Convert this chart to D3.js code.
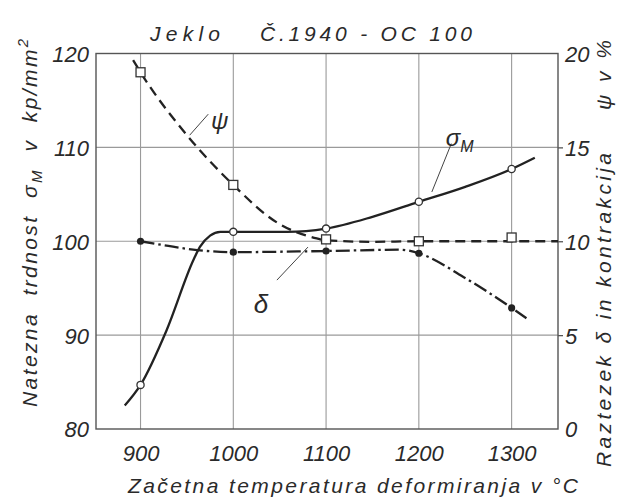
<!DOCTYPE html>
<html>
<head>
<meta charset="utf-8">
<script src="https://cdn.jsdelivr.net/npm/d3@7/dist/d3.min.js"></script>
<style>
  html, body { margin: 0; padding: 0; background: #fff; }
  svg { display: block; }
  text { font-family: "Liberation Sans", Arial, sans-serif; font-style: italic; fill: #2a2a2a; }
</style>
</head>
<body>
<svg id="chart" width="620" height="497"></svg>
<script>
// Measured temperatures (°C) and the values read at them
const temps = [900, 1000, 1100, 1200, 1300];
const sigmaM = [84.7, 101.0, 101.35, 104.2, 107.7];   // kp/mm², left axis
const psi = [19.0, 13.0, 10.1, 10.0, 10.2];          // %, right axis
const delta = [10.0, 9.42, 9.48, 9.36, 6.45];        // %, right axis

// Faired curves through the measurements
const sigmaCurveT = [883, 900, 928, 957, 964, 975, 986, 1000, 1058, 1100, 1150, 1200, 1250, 1300, 1325];
const sigmaCurveV = [82.5, 84.7, 90.5, 98.0, 99.4, 100.6, 101.0, 101.0, 101.0, 101.35, 102.6, 104.2, 105.8, 107.7, 108.9];
const psiCurveT = [892, 900, 950, 1000, 1047, 1090, 1100, 1150, 1200, 1300, 1350];
const psiCurveV = [19.65, 19.0, 15.65, 13.0, 11.0, 10.15, 10.05, 9.97, 10.0, 10.0, 10.0];
const deltaCurveT = [900, 930, 961, 1000, 1100, 1180, 1200, 1248, 1300, 1316];
const deltaCurveV = [10.0, 9.75, 9.53, 9.42, 9.48, 9.55, 9.36, 8.1, 6.45, 5.9];

// Axis ticks
const xTicks = [900, 1000, 1100, 1200, 1300];
const leftTicks = [80, 90, 100, 110, 120];
const rightTicks = [0, 5, 10, 15, 20];

const svg = d3.select("#chart");
const x = d3.scaleLinear().domain([852, 1350]).range([96, 558]);
const yL = d3.scaleLinear().domain([80, 120]).range([429, 53.5]);
const yR = d3.scaleLinear().domain([0, 20]).range([429, 53.5]);

const ink = "#222";
const grid = "#9a9a9a";

// Grid
svg.append("g").selectAll("line.v").data(xTicks).join("line")
  .attr("x1", d => x(d)).attr("x2", d => x(d))
  .attr("y1", yL(120)).attr("y2", yL(80))
  .attr("stroke", grid).attr("stroke-width", 1.1);
svg.append("g").selectAll("line.h").data([90, 100, 110]).join("line")
  .attr("x1", x(852)).attr("x2", x(1350))
  .attr("y1", d => yL(d)).attr("y2", d => yL(d))
  .attr("stroke", grid).attr("stroke-width", 1.1);

// Frame
svg.append("rect")
  .attr("x", x(852)).attr("y", yL(120))
  .attr("width", x(1350) - x(852)).attr("height", yL(80) - yL(120))
  .attr("fill", "none").attr("stroke", "#555").attr("stroke-width", 1.4);

// Axes (labels only; the frame carries the lines)
const bottom = svg.append("g").attr("transform", `translate(0,${yL(80)})`)
  .call(d3.axisBottom(x).tickValues(xTicks).tickSize(0).tickPadding(16).tickFormat(d3.format("d")));
const left = svg.append("g").attr("transform", `translate(${x(852)},0)`)
  .call(d3.axisLeft(yL).tickValues(leftTicks).tickSize(0).tickPadding(7).tickFormat(d3.format("d")));
const right = svg.append("g").attr("transform", `translate(${x(1350)},0)`)
  .call(d3.axisRight(yR).tickValues(rightTicks).tickSize(5).tickPadding(2).tickFormat(d3.format("d")));
[bottom, left, right].forEach(g => {
  g.select(".domain").remove();
  g.selectAll("text").style("font-size", "22px").style("font-family", "'Liberation Sans', Arial, sans-serif")
    .style("font-style", "italic").attr("fill", "#2a2a2a");
});
right.selectAll(".tick line").attr("stroke", "#555").attr("stroke-width", 1.3)
  .filter(d => d === 0 || d === 20).remove();
right.selectAll(".tick text").attr("dy", "0.36em");
left.selectAll(".tick text").attr("dy", "0.36em");

// Curves
const lineL = d3.line().x(d => x(d[0])).y(d => yL(d[1])).curve(d3.curveMonotoneX);
const lineR = d3.line().x(d => x(d[0])).y(d => yR(d[1])).curve(d3.curveMonotoneX);

svg.append("path").datum(d3.zip(psiCurveT, psiCurveV)).attr("d", lineR)
  .attr("fill", "none").attr("stroke", ink).attr("stroke-width", 2.3)
  .attr("stroke-dasharray", "10,6");
svg.append("path").datum(d3.zip(deltaCurveT, deltaCurveV)).attr("d", lineR)
  .attr("fill", "none").attr("stroke", ink).attr("stroke-width", 2.3)
  .attr("stroke-dasharray", "14,4,2.5,4");
svg.append("path").datum(d3.zip(sigmaCurveT, sigmaCurveV)).attr("d", lineL)
  .attr("fill", "none").attr("stroke", ink).attr("stroke-width", 2.3);

// Markers
svg.append("g").selectAll("circle").data(d3.zip(temps, delta)).join("circle")
  .attr("cx", d => x(d[0])).attr("cy", d => yR(d[1])).attr("r", 3.6).attr("fill", ink);
svg.append("g").selectAll("rect").data(d3.zip(temps, psi)).join("rect")
  .attr("x", d => x(d[0]) - 4.5).attr("y", d => yR(d[1]) - 4.5)
  .attr("width", 9).attr("height", 9)
  .attr("fill", "#fff").attr("stroke", "#333").attr("stroke-width", 1.3);
svg.append("g").selectAll("circle").data(d3.zip(temps, sigmaM)).join("circle")
  .attr("cx", d => x(d[0])).attr("cy", d => yL(d[1])).attr("r", 3.6)
  .attr("fill", "#fff").attr("stroke", "#333").attr("stroke-width", 1.3);

// Curve labels with leader lines
const leader = (x1, y1, x2, y2) => svg.append("line")
  .attr("x1", x1).attr("y1", y1).attr("x2", x2).attr("y2", y2)
  .attr("stroke", "#444").attr("stroke-width", 1);
leader(x(953), yR(15.65), x(973), yR(16.77));
svg.append("text").attr("x", x(976)).attr("y", yR(16.0)).style("font-size", "24px").text("ψ");

leader(x(1214), yL(105.25), x(1235), yL(110.4));
const sl = svg.append("text").attr("x", x(1229)).attr("y", yL(110.1)).style("font-size", "24px");
sl.append("tspan").text("σ");
sl.append("tspan").attr("dy", 6).style("font-size", "16px").text("M");

leader(x(1080.5), yR(9.69), x(1047), yR(7.93));
svg.append("text").attr("x", x(1022)).attr("y", yR(6.2)).style("font-size", "26px").text("δ");

// Title
svg.append("text").attr("x", 150).attr("y", 41).attr("textLength", 70).attr("lengthAdjust", "spacing")
  .style("font-size", "21px").text("Jeklo");
svg.append("text").attr("x", 260).attr("y", 41).attr("textLength", 212).attr("lengthAdjust", "spacing")
  .style("font-size", "21px").text("Č.1940 - OC 100");

// Axis titles
svg.append("text").attr("x", 128).attr("y", 493).attr("textLength", 450).attr("lengthAdjust", "spacing")
  .style("font-size", "21px").text("Začetna temperatura deformiranja v °C");

const lt = svg.append("text").attr("transform", "translate(37,407) rotate(-90)")
  .style("font-size", "21px").style("letter-spacing", "2.4px").attr("xml:space", "preserve");
lt.append("tspan").text("Natezna  trdnost  σ");
lt.append("tspan").attr("dy", 5).style("font-size", "15px").text("M");
lt.append("tspan").attr("dy", -5).text("  v  kp/mm");
lt.append("tspan").attr("dy", -9).style("font-size", "15px").text("2");

svg.append("text").attr("transform", "translate(611,467) rotate(-90)")
  .attr("textLength", 314).attr("lengthAdjust", "spacing")
  .style("font-size", "21px").text("Raztezek δ in kontrakcija");
svg.append("text").attr("transform", "translate(611,110) rotate(-90)")
  .attr("textLength", 70).attr("lengthAdjust", "spacing")
  .style("font-size", "21px").text("ψ v %");
</script>
</body>
</html>
